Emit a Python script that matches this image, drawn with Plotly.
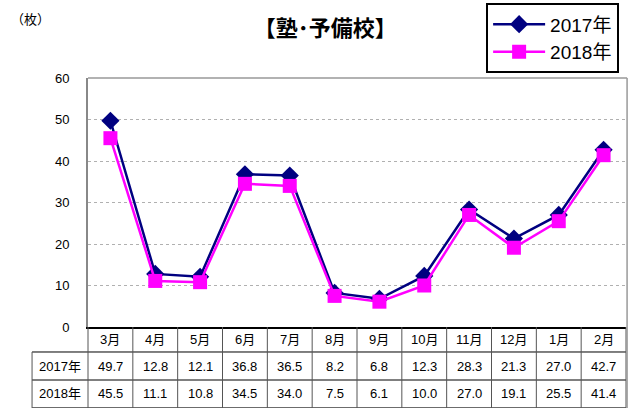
import plotly.graph_objects as go

months = ["3月", "4月", "5月", "6月", "7月", "8月", "9月", "10月", "11月", "12月", "1月", "2月"]
y2017 = [49.7, 12.8, 12.1, 36.8, 36.5, 8.2, 6.8, 12.3, 28.3, 21.3, 27.0, 42.7]
y2018 = [45.5, 11.1, 10.8, 34.5, 34.0, 7.5, 6.1, 10.0, 27.0, 19.1, 25.5, 41.4]
series = [("2017年", y2017), ("2018年", y2018)]

FONT = "Arial, 'Liberation Sans', 'Noto Sans CJK JP'"

fig = go.Figure()
fig.add_trace(go.Scatter(
    x=months, y=y2017, name="2017年", mode="lines+markers",
    line=dict(color="#000080", width=2.5),
    marker=dict(symbol="diamond", size=14, color="#000080"),
))
fig.add_trace(go.Scatter(
    x=months, y=y2018, name="2018年", mode="lines+markers",
    line=dict(color="#FF00FF", width=2.5),
    marker=dict(symbol="square", size=14, color="#FF00FF"),
))

# data table under the plot
n = len(months)
row_y = {"head": -0.050, "2017年": -0.157, "2018年": -0.269}
label_x = -0.052
cell = dict(showarrow=False, xanchor="center", yanchor="middle", font=dict(size=13, color="black"))
ann = []
for i, m in enumerate(months):
    ann.append(dict(x=i, y=row_y["head"], xref="x", yref="paper", text=m, **cell))
for name, vals in series:
    ann.append(dict(x=label_x, y=row_y[name], xref="paper", yref="paper", text=name, **cell))
    for i, v in enumerate(vals):
        ann.append(dict(x=i, y=row_y[name], xref="x", yref="paper", text=f"{v:.1f}", **cell))

ann.append(dict(x=-0.147, y=1.236, xref="paper", yref="paper", text="（枚）",
                showarrow=False, xanchor="left", yanchor="middle", font=dict(size=13, color="black")))

shapes = []
left = -0.104
for yy in (-0.1004, -0.2129, -0.325):
    shapes.append(dict(type="line", xref="paper", yref="paper", x0=left, x1=1, y0=yy, y1=yy,
                       line=dict(color="black", width=1)))
for k in range(1, n + 1):
    shapes.append(dict(type="line", xref="paper", yref="paper", x0=k / n, x1=k / n, y0=0, y1=-0.33,
                       line=dict(color="#555555", width=1)))
shapes.append(dict(type="line", xref="paper", yref="paper", x0=0, x1=0, y0=0, y1=-0.33,
                   line=dict(color="#555555", width=1)))
shapes.append(dict(type="line", xref="paper", yref="paper", x0=left, x1=left, y0=-0.1004, y1=-0.33,
                   line=dict(color="#555555", width=1)))
# plot frame top / right
shapes.append(dict(type="line", xref="paper", yref="paper", x0=0, x1=1.002, y0=1, y1=1,
                   line=dict(color="#999999", width=1.5)))
shapes.append(dict(type="line", xref="paper", yref="paper", x0=1.002, x1=1.002, y0=1, y1=-0.33,
                   line=dict(color="#999999", width=1.5)))

fig.update_layout(
    width=644, height=408,
    margin=dict(l=88, r=18, t=78, b=81, autoexpand=False),
    paper_bgcolor="white", plot_bgcolor="white",
    font=dict(family=FONT, color="black"),
    title=dict(text="<b>【塾･予備校】</b>", x=0.505, xanchor="center", y=0.93, yanchor="middle",
               font=dict(size=22, color="black")),
    showlegend=True,
    legend=dict(x=0.74, y=1.30, xanchor="left", yanchor="top", bordercolor="black", borderwidth=2,
                bgcolor="white", font=dict(size=19), tracegroupgap=4, itemwidth=52),
    annotations=ann,
    shapes=shapes,
)
fig.update_xaxes(range=[-0.5, n - 0.5], showticklabels=False, showgrid=False, showline=True,
                 linecolor="black", linewidth=1.5, ticks="", zeroline=False, automargin=False)
fig.update_yaxes(range=[0, 60], dtick=10, showgrid=True, gridcolor="#b0b0b0", griddash="dot",
                 gridwidth=1, showline=True, linecolor="#888888", linewidth=2, zeroline=False,
                 ticks="", ticklabelstandoff=14, tickfont=dict(size=13, color="black"),
                 automargin=False)

fig.write_html("out.html", config={"displayModeBar": False},
               post_script="document.body.style.margin='0';")
